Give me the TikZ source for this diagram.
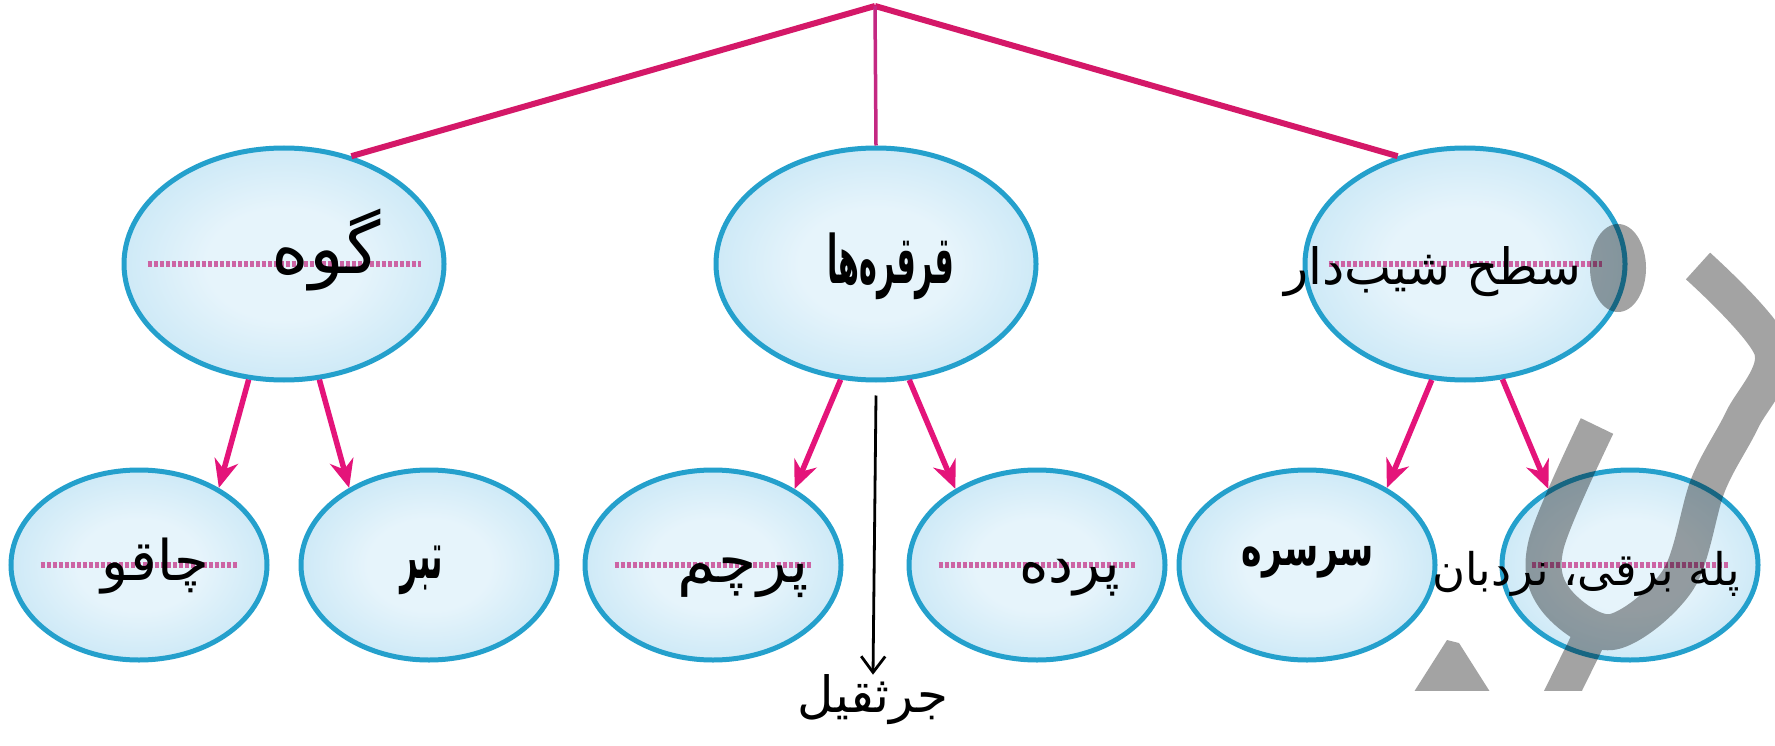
\documentclass[tikz,border=0pt]{standalone}
\usepackage{fontspec}
\newfontfamily\arabicfont[Script=Arabic]{DejaVu Sans}
\TeXXeTstate=1
\usetikzlibrary{arrows.meta,calc,shapes.geometric}
\definecolor{edgepink}{RGB}{212,24,104}
\definecolor{midpink}{RGB}{196,40,130}
\definecolor{arrowpink}{RGB}{228,20,122}
\definecolor{rimblue}{RGB}{36,160,204}
\definecolor{fillin}{RGB}{230,244,251}
\definecolor{fillout}{RGB}{166,216,240}
\definecolor{dashpink}{RGB}{204,100,164}
\pgfdeclareradialshading{blobshade}{\pgfpoint{0bp}{0bp}}{color(0bp)=(fillin); color(12bp)=(fillin); color(47bp)=(fillout); color(50bp)=(fillout)}
\tikzset{
  blob/.style={ellipse, inner sep=0pt, draw=rimblue, line width=5pt, shade, shading=blobshade},
  blobtop/.style={blob, minimum width=320pt, minimum height=232pt},
  blobbot/.style={blob, minimum width=256pt, minimum height=190pt},
  topline/.style={edgepink, line width=6pt},
  subarrow/.style={arrowpink, line width=5.5pt, -{Stealth[length=28pt, width=24pt, inset=9pt]}},
  midline/.style={dashpink, line width=6pt, dash pattern=on 4pt off 2pt},
  hand/.style={inner sep=0pt, font=\arabicfont\fontsize{50}{60}\selectfont},
  printed/.style={inner sep=0pt, font=\arabicfont\bfseries\fontsize{58}{64}\selectfont},
  handarrow/.style={black, line width=2.8pt, -{Straight Barb[length=16pt, width=24pt, line width=2.8pt]}},
  wmark/.style={black}
}
\begin{document}
\begin{tikzpicture}[x=1pt, y=-1pt]
\useasboundingbox (0,0) rectangle (1775,746);
\fill[white] (0,0) rectangle (1775,746);

% top row
\coordinate (apex) at (875,6);
\node[blobtop] (L) at (284,264) {};
\node[blobtop] (M) at (876,264) {};
\node[blobtop] (R) at (1465,264) {};

% bottom row
\node[blobbot] (B1) at (139,565) {};
\node[blobbot] (B2) at (429,565) {};
\node[blobbot] (B3) at (713,565) {};
\node[blobbot] (B4) at (1037,565) {};
\node[blobbot] (B5) at (1307,565) {};
\node[blobbot] (B6) at (1630,565) {};

% dotted mid lines
\draw[midline, shorten <=26pt, shorten >=26pt] (L.west) -- (L.east);
\draw[midline, shorten <=26pt, shorten >=26pt] (R.west) -- (R.east);
\foreach \b in {B1,B3,B4,B6}
  \draw[midline, shorten <=32pt, shorten >=32pt] (\b.west) -- (\b.east);

% connectors from apex
\draw[topline] (apex) -- (L.58);
\draw[topline] (apex) -- (R.122);
\draw[midpink, line width=3.5pt] (apex) -- (M.north);

% arrows to children
\draw[subarrow] (L.253) -- (B1.44);
\draw[subarrow] (L.287) -- (B2.136);
\draw[subarrow] (M.253) -- (B3.43);
\draw[subarrow] (M.286) -- (B4.137);
\draw[subarrow] (R.254) -- (B5.44);
\draw[subarrow] (R.288) -- (B6.137);

% watermark
\begin{scope}[transparency group, opacity=0.36]
  \clip (0,0) rectangle (1775,690);
  \fill[wmark] (1618,268) ellipse [x radius=28, y radius=44];
  \draw[wmark, line width=36pt, line join=round] plot[smooth, tension=0.55] coordinates {(1698,266) (1772,350) (1742,420) (1708,485) (1678,580) (1612,632) (1556,600) (1546,545) (1597,426)};
  \draw[wmark, line width=34pt] (1592,632) -- (1556,705);
  \fill[wmark] (1447,640) -- (1459,643) -- (1492,695) -- (1412,695) -- cycle;
\end{scope}

% texts
\node[hand, font=\arabicfont\fontsize{72}{80}\selectfont] (tL) at (326,250) {\beginR گوه\endR};
\node[printed] (tM) at (891,266) {\scalebox{0.52}[1.15]{\beginR قرقره‌ها\endR}};
\node[hand] (tR) at (1433,272) {\beginR سطح شیب‌دار\endR};
\node[hand, font=\arabicfont\fontsize{56}{60}\selectfont] (t1) at (155,566) {\beginR چاقو\endR};
\node[printed] (t2) at (422,570) {\scalebox{0.52}[1.15]{\beginR تبر\endR}};
\node[hand, font=\arabicfont\fontsize{62}{70}\selectfont] (t3) at (743,578) {\beginR پرچم\endR};
\node[hand, font=\arabicfont\fontsize{56}{60}\selectfont] (t4) at (1070,578) {\beginR پرده\endR};
\node[printed] (t5) at (1308,562) {\scalebox{0.6}[0.9]{\beginR سرسره\endR}};
\node[hand, font=\arabicfont\fontsize{45}{54}\selectfont] (t6) at (1586,574) {\beginR پله برقی، نردبان\endR};
\node[hand] (crane) at (873,700) {\beginR جرثقیل\endR};

\draw[handarrow] ([yshift=-13pt]M.south) -- (crane.north);
\end{tikzpicture}
\end{document}
